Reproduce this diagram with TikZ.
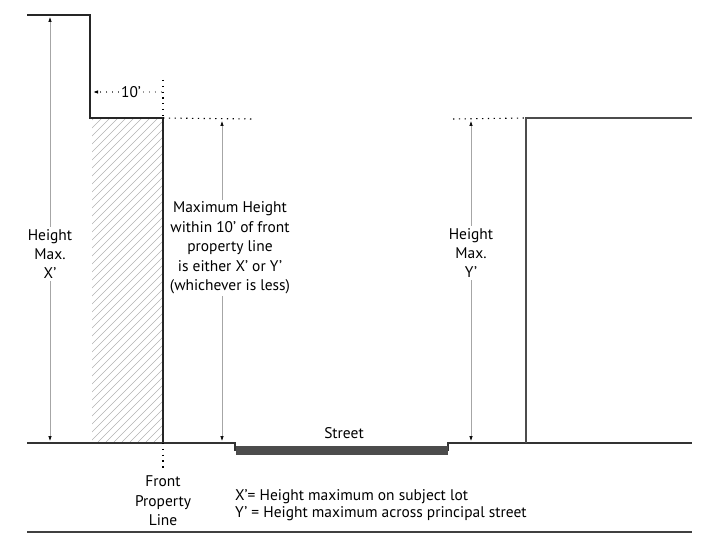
\documentclass[tikz,border=0pt]{standalone}
\usepackage{fontspec}
\setmainfont{PT Sans}
\usetikzlibrary{arrows.meta, calc, positioning}

\begin{document}
\begin{tikzpicture}[
        x=1bp, y=-1bp,
        wall/.style={draw=black!85, line width=1.6bp},
        ground/.style={draw=black!80, line width=1.6bp},
        guide/.style={draw=black, line width=1.1bp, dash pattern=on 1.3bp off 4.5bp},
        dim/.style={draw=black!35, line width=0.6bp, -{Latex[length=5bp, width=3.5bp, black]}},
        lbl/.style={align=center, font=\fontsize{15.5}{19.5}\selectfont, inner sep=2bp}
    ]
        \useasboundingbox (0,0) rectangle (714,537);

        % hatched setback strip
        \begin{scope}
            \clip (92,119) rectangle (163,442);
            \foreach \i in {0,8,...,424}
                \draw[black!30, line width=0.45bp] (92+\i-330,442) -- (92+\i,112);
        \end{scope}

        % subject lot building
        \coordinate (roof) at (27,15);
        \coordinate (step) at (90,15);
        \coordinate (setback) at (90,118);
        \coordinate (fpl) at (163,118);
        \coordinate (fplg) at (163,443);
        \draw[wall] (roof) -- (step) -- (setback) -- (fpl) -- (fplg);

        % ground and street
        \coordinate (gl) at (27,443);
        \coordinate (curbl) at (235,443);
        \coordinate (curbr) at (448,443);
        \coordinate (gr) at (692,443);
        \draw[ground] (gl) -- (curbl) -- (235,451);
        \draw[ground] (448,451) -- (curbr) -- (gr);
        \fill[black!70] (235.5,446) rectangle (448,455);
        \node[lbl] (street) at (344,433) {Street};

        % building across street
        \coordinate (opp) at (526,118);
        \coordinate (oppg) at (526,443);
        \coordinate (oppr) at (692,118);
        \draw[wall, draw=black!70] (oppg) -- (opp) -- (oppr);

        % dotted guides
        \draw[guide] (163,80) -- (fpl);
        \draw[guide] (fplg) -- (163,472);
        \draw[guide] (fpl) -- (253,119);
        \draw[guide] (453,119) -- (opp);

        % 10' setback dimension
        \node[lbl] (ten) at (131,92) {10’};
        \draw[guide, draw=black!60, -{Latex[length=5bp, width=3.5bp, black]}] (ten.west) -- (93,92);
        \draw[guide, draw=black!40] (ten.east) -- (161,92);

        % height X'
        \node[lbl] (hx) at (50,254) {Height\\Max.\\X’};
        \draw[dim] (hx.north) -- (50,17);
        \draw[dim] (hx.south) -- (50,441);

        % maximum height within 10'
        \coordinate (mtop) at (222,121);
        \coordinate (mbot) at (222,441);
        \node[lbl] (mh) at (230,248) {Maximum Height\\within 10’ of front\\property line\\is either X’ or Y’\\(whichever is less)};
        \draw[dim] (mtop |- mh.north) -- (mtop);
        \draw[dim] (mbot |- mh.south) -- (mbot);

        % height Y'
        \node[lbl] (hy) at (471,253) {Height\\Max.\\Y’};
        \draw[dim] (hy.north) -- (471,121);
        \draw[dim] (hy.south) -- (471,441);

        % front property line label
        \node[lbl] (fpllbl) at (163,501) {Front\\Property\\Line};

        % legend
        \node[lbl, align=left, anchor=west, font=\fontsize{15.5}{16.5}\selectfont] (legend) at (233,505)
            {X’= Height maximum on subject lot\\Y’ = Height maximum across principal street};

        \draw[black!75, line width=1.2bp] (27,532) -- (692,532);
    \end{tikzpicture}
\end{document}
